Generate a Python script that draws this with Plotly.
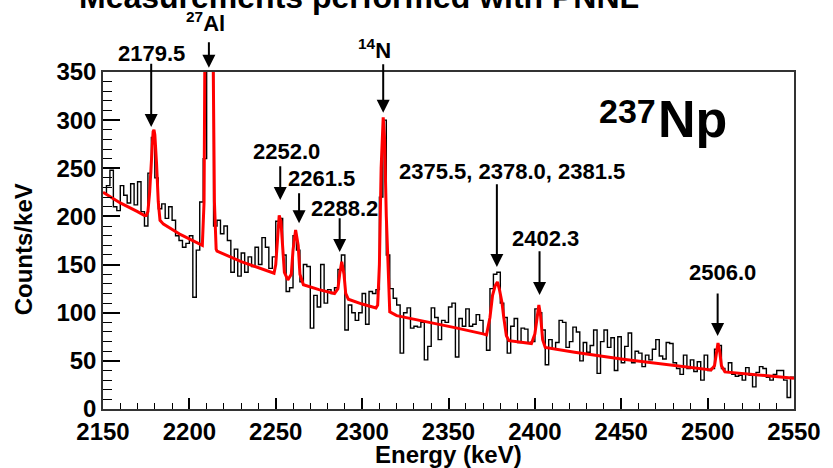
import numpy as np
import plotly.graph_objects as go

# ---------------- data ----------------
bin_width = 2.0
energy_start = 2150.0
counts = [
    224, 232, 248, 210, 206, 232, 222, 214, 234, 212,
    236, 205, 190, 245, 282, 240, 208, 213, 198, 210,
    196, 180, 175, 168, 172, 180, 116, 165, 215, 260,
    1300, 900, 190, 196, 182, 190, 175, 142, 166, 138,
    162, 142, 158, 148, 168, 150, 178, 168, 146, 158,
    195, 198, 160, 122, 126, 180, 165, 132, 150, 148,
    84, 118, 106, 150, 110, 124, 120, 126, 145, 160,
    82, 108, 100, 92, 100, 120, 88, 122, 120, 124,
    220, 300, 160, 125, 115, 108, 58, 100, 105, 84,
    86, 85, 90, 51, 65, 105, 95, 72, 92, 90,
    106, 110, 54, 94, 86, 104, 86, 88, 98, 92,
    78, 61, 125, 140, 142, 110, 95, 58, 86, 94,
    69, 84, 83, 69, 70, 104, 100, 82, 46, 72,
    62, 69, 92, 90, 64, 70, 85, 80, 50, 69,
    59, 66, 82, 37, 70, 82, 64, 74, 40, 75,
    48, 65, 79, 48, 60, 58, 44, 56, 51, 62,
    72, 55, 52, 69, 68, 48, 42, 36, 56, 42,
    51, 39, 49, 30, 56, 40, 42, 62, 66, 42,
    38, 48, 36, 34, 35, 30, 43, 35, 23, 38,
    44, 42, 33, 30, 36, 40, 40, 30, 12, 33,
]

fit_energy = [2150, 2160, 2170, 2174, 2175, 2176, 2177, 2178, 2179, 2179.5, 2180, 2181, 2182, 2183,
              2185, 2195, 2205, 2207.5, 2208.5, 2209, 2209.5, 2210.5, 2211.5, 2212.5, 2213.5, 2214,
              2214.5, 2215.5,
              2216, 2230, 2249, 2250, 2251, 2252, 2253, 2254, 2255, 2257, 2259, 2260, 2261.5, 2263,
              2264, 2266, 2275, 2284, 2286, 2287, 2288.2, 2289.5, 2290.5, 2292, 2300, 2308, 2309,
              2310, 2311, 2312.2, 2313, 2314, 2315, 2316, 2320, 2340, 2355, 2370, 2372, 2374, 2375.5,
              2377, 2378.3, 2379.5, 2381, 2382, 2383.5, 2385, 2398, 2400, 2401.3, 2402.3, 2403.3,
              2404.5, 2406, 2423, 2450, 2486, 2502, 2504, 2505, 2506, 2507, 2508, 2510, 2530, 2550]
fit_counts = [225, 214, 205, 201, 201, 205, 225, 262, 288, 290, 285, 255, 215, 196,
              192, 181, 172, 170, 215, 290, 420, 900, 1200, 900, 420, 290,
              215, 166,
              164, 153, 141, 150, 180, 201, 195, 165, 142, 134, 140, 165, 186, 170,
              140, 129, 124, 120, 125, 140, 153, 140, 120, 114, 109, 105, 108,
              150, 250, 303, 280, 200, 140, 101, 97, 90, 84, 78, 77, 95, 118,
              128, 132, 124, 110, 95, 76, 71, 68, 78, 98, 108, 97,
              72, 64, 59, 52, 44, 40.5, 45, 58, 68.5, 60, 45, 38.5, 35, 32]

label_texts = ["2179.5", "<sup>27</sup>Al", "<sup>14</sup>N", "2252.0", "2261.5", "2288.2",
               "2375.5, 2378.0, 2381.5", "2402.3", "2506.0"]
label_energy = [2177.8, 2209.6, 2307.0, 2256.0, 2276.6, 2289.8, 2386.7, 2406.2, 2508.9]
label_counts = [369, 402, 374, 267, 239, 208, 246.4, 177.2, 141.9]

arrow_energy = [2177.9, 2211.3, 2312.2, 2252.6, 2263.5, 2287.0, 2378.0, 2402.7, 2505.8]
arrow_tip = [293, 354.5, 307.7, 217, 193, 163, 147.6, 118.5, 75.9]
arrow_tail = [360, 382.5, 359.7, 253.6, 225.6, 199.6, 235, 165.3, 121.6]

title_text = "Measurements performed with PNNL"
x_title = "Energy (keV)"
y_title = "Counts/keV"

x_range = [2150, 2550]
y_range = [0, 350]

# ---------------- figure ----------------
W, H = 833, 468
M = dict(l=103, r=32, t=72, b=59)
plot_h = H - M["t"] - M["b"]


def xp(e):
    return (e - x_range[0]) / (x_range[1] - x_range[0])


def yp(c):
    return (c - y_range[0]) / (y_range[1] - y_range[0])


edges = energy_start + bin_width * np.arange(len(counts) + 1)
hist_y = list(counts) + [counts[-1]]

FONT = "Liberation Sans, Arial, Helvetica, sans-serif"

fig = go.Figure()
fig.add_trace(go.Scatter(x=edges, y=hist_y, mode="lines", line=dict(shape="hv", color="black", width=1.4),
                         hoverinfo="skip", showlegend=False))
fig.add_trace(go.Scatter(x=fit_energy, y=fit_counts, mode="lines", line=dict(color="#ff0000", width=3),
                         hoverinfo="skip", showlegend=False))

annotations = []
for e, tip, tail in zip(arrow_energy, arrow_tip, arrow_tail):
    annotations.append(dict(x=xp(e), y=yp(tip), xref="paper", yref="paper",
                            ax=0, ay=-(yp(tail) - yp(tip)) * plot_h,
                            text="", showarrow=True, arrowhead=2, arrowsize=1.3, arrowwidth=2,
                            arrowcolor="black", standoff=0))
for t, e, c in zip(label_texts, label_energy, label_counts):
    annotations.append(dict(x=xp(e), y=yp(c), xref="paper", yref="paper", text=t, showarrow=False,
                            xanchor="center", yanchor="middle",
                            font=dict(family=FONT, size=22, color="black", weight="bold")))

# 237Np
annotations.append(dict(x=xp(2453.7), y=yp(309.3), xref="paper", yref="paper", text="237", showarrow=False,
                        xanchor="center", yanchor="middle",
                        font=dict(family=FONT, size=34, color="black", weight="bold")))
annotations.append(dict(x=xp(2491.3), y=yp(301.5), xref="paper", yref="paper", text="Np", showarrow=False,
                        xanchor="center", yanchor="middle",
                        font=dict(family=FONT, size=52, color="black", weight="bold")))

# titles
annotations.append(dict(x=-0.0372, y=1.223, xref="paper", yref="paper", text=title_text, showarrow=False,
                        xanchor="left", yanchor="middle",
                        font=dict(family=FONT, size=32, color="black", weight="bold")))
annotations.append(dict(x=0.5007, y=-0.135, xref="paper", yref="paper", text=x_title, showarrow=False,
                        xanchor="center", yanchor="middle",
                        font=dict(family=FONT, size=24, color="black", weight="bold")))
annotations.append(dict(x=-0.1139, y=0.4748, xref="paper", yref="paper", text=y_title, showarrow=False,
                        textangle=-90, xanchor="center", yanchor="middle",
                        font=dict(family=FONT, size=24, color="black", weight="bold")))

fig.update_layout(
    width=W, height=H,
    margin=dict(M, pad=0),
    paper_bgcolor="white", plot_bgcolor="white",
    annotations=annotations,
    showlegend=False,
)
fig.update_xaxes(range=x_range, showgrid=False, zeroline=False,
                 showline=True, linecolor="#333333", linewidth=1.5, mirror=True,
                 ticks="inside", ticklen=11, tickwidth=1.5, tickcolor="black",
                 tick0=2150, dtick=50, ticklabeloverflow="allow",
                 minor=dict(ticks="inside", ticklen=6, tickwidth=1.2, tickcolor="black", dtick=10, showgrid=False),
                 tickfont=dict(family=FONT, size=24, color="black", weight="bold"))
fig.update_yaxes(range=y_range, showgrid=False, zeroline=False,
                 showline=True, linecolor="#333333", linewidth=1.5, mirror=True,
                 ticks="inside", ticklen=17, tickwidth=1.5, tickcolor="black",
                 tick0=0, dtick=50,
                 minor=dict(ticks="inside", ticklen=9, tickwidth=1.2, tickcolor="black", dtick=10, showgrid=False),
                 tickfont=dict(family=FONT, size=24, color="black", weight="bold"))

fig.write_html("out.html", config={"displayModeBar": False},
               post_script="document.body.style.margin='0';document.body.style.overflow='hidden';")
